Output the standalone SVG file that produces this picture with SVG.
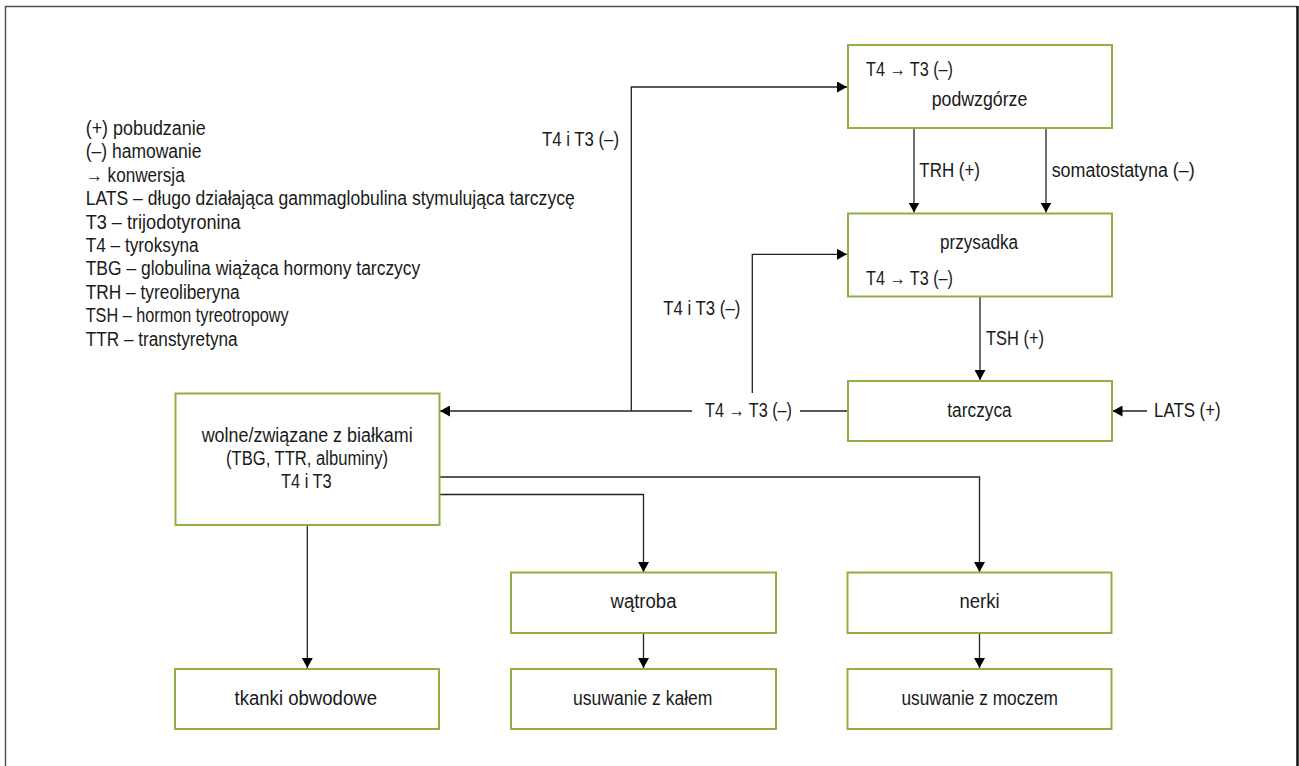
<svg xmlns="http://www.w3.org/2000/svg" width="1299" height="766" viewBox="0 0 1299 766">
<defs>
<marker id="ah" markerUnits="userSpaceOnUse" markerWidth="11" markerHeight="11" refX="10" refY="5.5" orient="auto">
<path d="M0,0 L10,5.5 L0,11 z" fill="#000"/>
</marker>
<style>
.box{fill:#fff;stroke:#8fb043;stroke-width:2}
.t{font-family:"Liberation Sans",Arial,sans-serif;font-size:19.5px;fill:#1a1a1a}
.m{text-anchor:middle}
.c{fill:none;stroke:#222;stroke-width:1.3}
.a{marker-end:url(#ah)}
</style>
</defs>
<rect width="1299" height="766" fill="#fff"/>
<path d="M5.5,766 V6.5 H1297" fill="none" stroke="#555" stroke-width="1.5"/>
<path d="M1297.5,6 V766" fill="none" stroke="#111" stroke-width="2.5"/>

<g id="legend" class="t">
<text x="85.7" y="135" textLength="120" lengthAdjust="spacingAndGlyphs">(+) pobudzanie</text>
<text x="85.7" y="158.4" textLength="115.7" lengthAdjust="spacingAndGlyphs">(–) hamowanie</text>
<text x="85.7" y="181.8" textLength="99" lengthAdjust="spacingAndGlyphs">→ konwersja</text>
<text x="85.7" y="205.2" textLength="489" lengthAdjust="spacingAndGlyphs">LATS – długo działająca gammaglobulina stymulująca tarczycę</text>
<text x="85.7" y="228.6" textLength="155" lengthAdjust="spacingAndGlyphs">T3 – trijodotyronina</text>
<text x="85.7" y="252" textLength="113" lengthAdjust="spacingAndGlyphs">T4 – tyroksyna</text>
<text x="85.7" y="275.4" textLength="334.6" lengthAdjust="spacingAndGlyphs">TBG – globulina wiążąca hormony tarczycy</text>
<text x="85.7" y="298.8" textLength="154" lengthAdjust="spacingAndGlyphs">TRH – tyreoliberyna</text>
<text x="85.7" y="322.2" textLength="203" lengthAdjust="spacingAndGlyphs">TSH – hormon tyreotropowy</text>
<text x="85.7" y="345.6" textLength="152" lengthAdjust="spacingAndGlyphs">TTR – transtyretyna</text>
</g>

<g id="connectors">
<path class="c a" d="M914,128 V212.5"/>
<path class="c a" d="M1046,128 V212.5"/>
<path class="c a" d="M980,297 V380"/>
<path class="c a" d="M1147,411 H1112.5"/>
<path class="c" d="M848,411 H800"/>
<path class="c a" d="M692,411 H440"/>
<path class="c a" d="M631.3,411 V87 H847"/>
<path class="c a" d="M752.3,393 V254.3 H847"/>
<path class="c a" d="M439.5,494.5 H643.5 V572"/>
<path class="c a" d="M439.5,477 H979.5 V572"/>
<path class="c a" d="M307.3,525 V668"/>
<path class="c a" d="M643.5,633 V668"/>
<path class="c a" d="M979.5,633 V668"/>
<g class="t">
<text x="919.3" y="176.7" textLength="60.7" lengthAdjust="spacingAndGlyphs">TRH (+)</text>
<text x="1051.7" y="176.7" textLength="143" lengthAdjust="spacingAndGlyphs">somatostatyna (–)</text>
<text x="986" y="345" textLength="58" lengthAdjust="spacingAndGlyphs">TSH (+)</text>
<text x="1154" y="416.7" textLength="66.7" lengthAdjust="spacingAndGlyphs">LATS (+)</text>
<text x="705" y="416.7" textLength="87" lengthAdjust="spacingAndGlyphs">T4 → T3 (–)</text>
<text x="663.3" y="315" textLength="77" lengthAdjust="spacingAndGlyphs">T4 i T3 (–)</text>
<text x="542" y="145.5" textLength="77" lengthAdjust="spacingAndGlyphs">T4 i T3 (–)</text>
</g>
</g>

<g id="podwzgorze">
<rect class="box" x="848" y="45" width="264" height="83"/>
<text class="t" x="866" y="76" textLength="87" lengthAdjust="spacingAndGlyphs">T4 → T3 (–)</text>
<text class="t" x="931.7" y="106" textLength="95.6" lengthAdjust="spacingAndGlyphs">podwzgórze</text>
</g>
<g id="przysadka">
<rect class="box" x="848" y="213.5" width="264" height="83"/>
<text class="t" x="940" y="249.3" textLength="78" lengthAdjust="spacingAndGlyphs">przysadka</text>
<text class="t" x="866" y="285" textLength="87" lengthAdjust="spacingAndGlyphs">T4 → T3 (–)</text>
</g>
<g id="tarczyca">
<rect class="box" x="848" y="381" width="264" height="60"/>
<text class="t" x="947.3" y="416.7" textLength="64.4" lengthAdjust="spacingAndGlyphs">tarczyca</text>
</g>
<g id="wolne">
<rect class="box" x="175.5" y="393.5" width="264" height="131.5"/>
<text class="t" x="201.7" y="441.5" textLength="211" lengthAdjust="spacingAndGlyphs">wolne/związane z białkami</text>
<text class="t" x="226" y="464.8" textLength="162" lengthAdjust="spacingAndGlyphs">(TBG, TTR, albuminy)</text>
<text class="t" x="281" y="488.1" textLength="50.7" lengthAdjust="spacingAndGlyphs">T4 i T3</text>
</g>
<g id="watroba">
<rect class="box" x="511" y="572.5" width="265" height="60.5"/>
<text class="t" x="610.5" y="608.2" textLength="66" lengthAdjust="spacingAndGlyphs">wątroba</text>
</g>
<g id="nerki">
<rect class="box" x="847.5" y="572.5" width="264" height="60.5"/>
<text class="t" x="959.5" y="608.2" textLength="40" lengthAdjust="spacingAndGlyphs">nerki</text>
</g>
<g id="tkanki">
<rect class="box" x="175" y="669" width="264" height="60"/>
<text class="t" x="234.5" y="705" textLength="142.5" lengthAdjust="spacingAndGlyphs">tkanki obwodowe</text>
</g>
<g id="kal">
<rect class="box" x="511" y="669" width="265" height="60"/>
<text class="t" x="573" y="705" textLength="139.5" lengthAdjust="spacingAndGlyphs">usuwanie z kałem</text>
</g>
<g id="mocz">
<rect class="box" x="847.5" y="669" width="264" height="60"/>
<text class="t" x="901.4" y="705" textLength="156.6" lengthAdjust="spacingAndGlyphs">usuwanie z moczem</text>
</g>
</svg>
